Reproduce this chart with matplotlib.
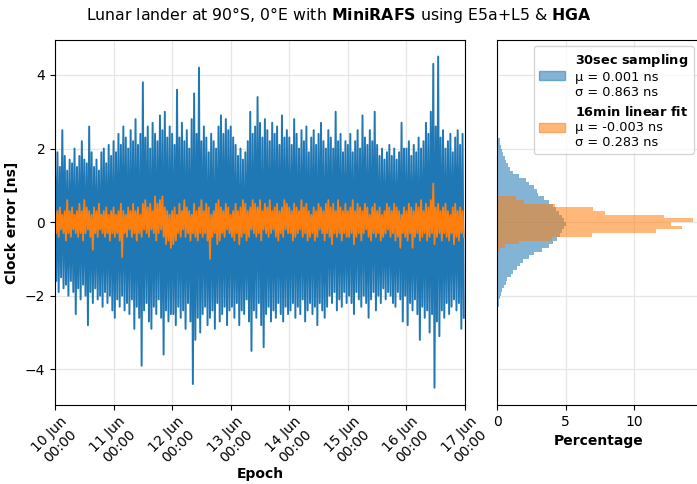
import matplotlib
matplotlib.use("Agg")
import matplotlib.pyplot as plt
import matplotlib.dates as mdates
import matplotlib.patches as mpatches
import numpy as np
import pandas as pd

# hourly envelope of the 30 s clock error [ns] (max / min per hour)
blue_hi = [
    1.6, 1.9, 1.5, 2.5, 1.8, 1.4, 1.7, 1.6, 2.0, 1.5, 1.8, 2.2, 1.7, 1.6, 2.6, 1.9, 1.5, 1.7, 1.4, 1.9, 2.0, 1.6, 2.1, 1.8,
    2.2, 1.9, 2.4, 2.1, 2.6, 2.3, 2.0, 2.5, 2.2, 2.8, 2.1, 2.4, 3.8, 2.3, 2.6, 2.0, 2.7, 2.4, 2.2, 2.9, 2.5, 3.0, 2.3, 2.6,
    2.4, 2.1, 3.6, 2.3, 2.7, 2.2, 2.5, 2.0, 2.8, 3.5, 2.4, 4.2, 2.2, 2.6, 2.3, 1.9, 2.4, 2.2, 2.0, 2.6, 2.9, 2.4, 2.8, 2.5,
    2.6, 2.3, 2.1, 1.8, 2.0, 1.7, 1.9, 2.2, 3.0, 2.4, 2.6, 3.4, 2.7, 2.3, 2.8, 2.5, 2.2, 2.7, 2.4, 2.6, 2.1, 2.9, 2.3, 2.5,
    2.3, 2.1, 2.8, 2.4, 2.0, 2.5, 2.2, 2.6, 1.9, 2.3, 2.5, 2.1, 2.4, 2.7, 2.2, 2.0, 2.5, 2.3, 2.0, 3.0, 2.2, 2.4, 1.9, 2.2,
    2.1, 2.4, 1.9, 2.2, 2.5, 2.0, 2.9, 2.3, 2.1, 2.5, 2.2, 3.0, 2.1, 1.8, 2.0, 1.7, 1.9, 2.1, 1.8, 2.0, 1.7, 1.9, 2.7, 2.0,
    2.0, 2.2, 1.8, 2.1, 1.9, 2.3, 2.0, 2.2, 2.7, 2.4, 3.0, 4.3, 2.6, 4.5, 2.3, 2.5, 2.0, 2.2, 2.4, 1.9, 2.3, 2.5, 2.1, 2.4,
]
blue_lo = [
    -1.6, -1.9, -1.5, -1.8, -1.7, -2.0, -1.6, -1.9, -2.5, -1.8, -2.1, -1.7, -2.0, -2.8, -1.9, -2.2, -1.8, -2.1, -2.0, -2.3, -1.9, -2.2, -2.0, -2.4,
    -2.6, -2.1, -2.3, -2.0, -2.4, -2.2, -2.5, -2.1, -2.9, -2.3, -2.6, -3.9, -2.4, -2.2, -2.7, -2.9, -2.3, -2.5, -2.1, -2.6, -3.6, -2.4, -2.7, -2.5,
    -2.5, -2.8, -2.3, -2.6, -2.4, -2.9, -2.2, -2.7, -4.4, -3.2, -2.6, -3.0, -2.5, -2.3, -2.8, -2.6, -2.4, -2.9, -2.2, -2.7, -2.5, -2.3, -2.8, -2.4,
    -2.3, -2.6, -2.2, -2.8, -2.4, -2.5, -2.1, -2.7, -3.5, -2.4, -2.6, -2.2, -2.8, -3.4, -2.5, -2.3, -2.7, -2.4, -2.6, -2.2, -2.5, -2.7, -2.3, -2.5,
    -2.4, -2.2, -2.6, -2.3, -2.5, -2.1, -2.7, -2.4, -2.2, -2.5, -2.3, -2.8, -2.2, -2.4, -2.6, -2.3, -2.0, -2.2, -1.9, -2.4, -2.1, -2.3, -1.9, -2.2,
    -2.0, -2.2, -2.5, -1.9, -2.1, -2.3, -2.0, -2.2, -2.6, -2.1, -1.9, -2.4, -2.0, -2.2, -1.8, -2.1, -1.9, -2.0, -2.2, -2.3, -1.9, -2.1, -2.7, -2.0,
    -2.8, -2.2, -2.4, -2.1, -2.5, -3.2, -2.3, -2.6, -2.4, -3.0, -2.5, -4.5, -2.7, -3.1, -2.4, -2.6, -2.2, -2.5, -2.3, -2.1, -2.4, -2.2, -2.9, -2.6,
]
# hourly envelope of the 16 min linear fit residual [ns]
orange_hi = [
    0.5, 0.3, 0.4, 0.2, 0.3, 0.6, 0.3, 0.4, 0.2, 0.3, 0.5, 0.3, 0.6, 0.4, 0.3, 0.2, 0.4, 0.3, 0.5, 0.2, 0.3, 0.4, 0.2, 0.3,
    0.4, 0.2, 0.3, 0.5, 0.3, 0.2, 0.4, 0.3, 0.5, 0.3, 0.4, 0.2, 0.5, 0.6, 0.4, 0.5, 0.3, 0.7, 0.5, 0.6, 0.7, 0.4, 0.3, 0.2,
    0.3, 0.4, 0.2, 0.5, 0.3, 0.6, 0.4, 0.3, 0.2, 0.5, 0.3, 0.4, 0.6, 0.3, 0.5, 0.4, 0.2, 0.3, 0.5, 0.6, 0.4, 0.3, 0.5, 0.4,
    0.2, 0.3, 0.5, 0.3, 0.4, 0.6, 0.5, 0.3, 0.4, 0.6, 0.5, 0.4, 0.6, 0.3, 0.5, 0.4, 0.6, 0.3, 0.4, 0.5, 0.3, 0.4, 0.6, 0.5,
    0.4, 0.3, 0.5, 0.4, 0.3, 0.6, 0.4, 0.5, 0.3, 0.2, 0.4, 0.3, 0.5, 0.4, 0.3, 0.5, 0.6, 0.4, 0.5, 0.3, 0.6, 0.4, 0.3, 0.5,
    0.3, 0.4, 0.6, 0.3, 0.5, 0.4, 0.3, 0.5, 0.4, 0.2, 0.4, 0.5, 0.3, 0.4, 0.2, 0.3, 0.5, 0.4, 0.3, 0.5, 0.4, 0.3, 0.2, 0.4,
    0.3, 0.5, 0.4, 0.3, 0.5, 0.4, 0.6, 0.3, 0.5, 0.4, 0.6, 1.05, 0.4, 0.5, 0.3, 0.4, 0.5, 0.3, 0.2, 0.4, 0.5, 0.3, 0.4, 0.3,
]
orange_lo = [
    -0.3, -0.4, -0.2, -0.3, -0.5, -0.3, -0.4, -0.2, -0.3, -0.4, -0.3, -0.5, -0.3, -0.2, -0.4, -0.75, -0.3, -0.4, -0.2, -0.3, -0.4, -0.3, -0.5, -0.3,
    -0.4, -0.3, -0.5, -0.95, -0.3, -0.4, -0.2, -0.4, -0.3, -0.5, -0.3, -0.4, -0.2, -0.3, -0.4, -0.2, -0.3, -0.5, -0.3, -0.2, -0.4, -0.6, -0.5, -0.7,
    -0.6, -0.5, -0.3, -0.4, -0.2, -0.4, -0.3, -0.5, -0.3, -0.4, -0.5, -0.3, -0.4, -0.3, -0.5, -1.0, -0.4, -0.3, -0.6, -0.5, -0.3, -0.4, -0.2, -0.3,
    -0.4, -0.5, -0.3, -0.6, -0.4, -0.3, -0.5, -0.4, -0.2, -0.3, -0.4, -0.3, -0.5, -0.2, -0.3, -0.4, -0.3, -0.2, -0.4, -0.5, -0.3, -0.4, -0.2, -0.3,
    -0.3, -0.5, -0.4, -0.3, -0.2, -0.4, -0.3, -0.5, -0.4, -0.3, -0.5, -0.4, -0.2, -0.3, -0.5, -0.3, -0.4, -0.6, -0.3, -0.4, -0.3, -0.5, -0.3, -0.4,
    -0.4, -0.3, -0.6, -0.4, -0.3, -0.5, -0.3, -0.2, -0.4, -0.5, -0.3, -0.4, -0.3, -0.5, -0.4, -0.3, -0.2, -0.4, -0.3, -0.5, -0.4, -0.7, -0.3, -0.4,
    -0.5, -0.3, -0.7, -0.4, -0.3, -0.5, -0.4, -0.3, -0.5, -0.4, -0.3, -0.6, -0.4, -0.3, -0.5, -0.3, -0.4, -0.5, -0.3, -0.6, -0.4, -0.5, -0.3, -0.4,
]

# histograms (percentage per 0.1 ns bin), bins from low to high
blue_edges_lo = -2.5
blue_pct = [
    0.05, 0.1, 0.12, 0.17, 0.22, 0.3, 0.37, 0.5, 0.66, 0.76, 1.0, 1.2, 1.45, 1.7, 1.9, 2.3, 2.7, 3.3, 3.8, 4.1,
    4.4, 4.6, 4.75, 4.9,
    5.0, 4.9, 4.75, 4.5, 4.3, 4.1, 3.8, 3.4, 3.0, 2.9, 2.7, 2.3, 2.1, 1.6, 1.2, 0.95, 0.8, 0.65, 0.55, 0.45,
    0.4, 0.3, 0.25, 0.2, 0.1,
]
orange_edges_lo = -1.0
orange_pct = [
    0.05, 0.1, 0.2, 0.6, 1.6, 4.0, 6.9, 11.6, 13.5, 12.7,
    14.3, 12.2, 7.9, 7.0, 4.2, 2.0, 1.4, 0.1,
]

labels_blue = r"$\mathbf{30sec\ sampling}$" + "\nμ = 0.001 ns\nσ = 0.863 ns"
labels_orange = r"$\mathbf{16min\ linear\ fit}$" + "\nμ = -0.003 ns\nσ = 0.283 ns"

start = pd.Timestamp("2024-06-10 00:00")
n = len(blue_hi)
t_hi = start + pd.to_timedelta(np.arange(n), unit="h")
t_lo = t_hi + pd.Timedelta(minutes=30)
t = np.empty(2 * n, dtype="datetime64[ns]")
t[0::2] = t_hi.values
t[1::2] = t_lo.values
blue = np.empty(2 * n)
blue[0::2] = blue_hi
blue[1::2] = blue_lo
orange = np.empty(2 * n)
orange[0::2] = orange_hi
orange[1::2] = orange_lo

C0 = "#1f77b4"
C1 = "#ff7f0e"

fig = plt.figure(figsize=(6.97, 4.84), dpi=100)
W, H = 697, 484
ax = fig.add_axes([55 / W, (H - 405) / H, 410 / W, 365 / H])
axh = fig.add_axes([497 / W, (H - 405) / H, 203 / W, 365 / H], sharey=ax)

ax.plot(t, blue, color=C0, lw=1.4)
ax.plot(t, orange, color=C1, lw=1.3)
ax.set_xlim(start, start + pd.Timedelta(days=7))
ax.set_ylim(-4.97, 4.95)
ax.set_yticks([-4, -2, 0, 2, 4])
ax.xaxis.set_major_locator(mdates.DayLocator())
ax.xaxis.set_major_formatter(mdates.DateFormatter("%d %b\n%H:%M"))
plt.setp(ax.get_xticklabels(), rotation=45)
ax.grid(True, color="#e6e6e6", lw=0.9)
ax.set_axisbelow(True)
ax.set_xlabel("Epoch", fontweight="bold", labelpad=0)
ax.set_ylabel("Clock error [ns]", fontweight="bold")

bw = 0.1
yb = blue_edges_lo + bw * (np.arange(len(blue_pct)) + 0.5)
yo = orange_edges_lo + bw * (np.arange(len(orange_pct)) + 0.5)
axh.barh(yb, blue_pct, height=bw, color=C0, alpha=0.55, lw=0)
axh.barh(yo, orange_pct, height=bw, color=C1, alpha=0.55, lw=0)
axh.set_xlim(0, 14.8)
axh.set_xticks([0, 5, 10])
axh.tick_params(axis="y", left=False, labelleft=False)
axh.grid(True, color="#e6e6e6", lw=0.9)
axh.set_axisbelow(True)
axh.set_xlabel("Percentage", fontweight="bold")
handles = [
    mpatches.Patch(facecolor=C0, edgecolor=C0, alpha=0.55, label=labels_blue),
    mpatches.Patch(facecolor=C1, edgecolor=C1, alpha=0.55, label=labels_orange),
]
axh.legend(handles=handles, loc="upper right", fontsize=9.3)

fig.text(338.5 / W, 1 - 15 / H,
         r"Lunar lander at 90°S, 0°E with $\mathbf{MiniRAFS}$ using E5a+L5 & $\mathbf{HGA}$",
         fontsize=11.3, ha="center", va="center")

fig.savefig("out.png", dpi=100)
